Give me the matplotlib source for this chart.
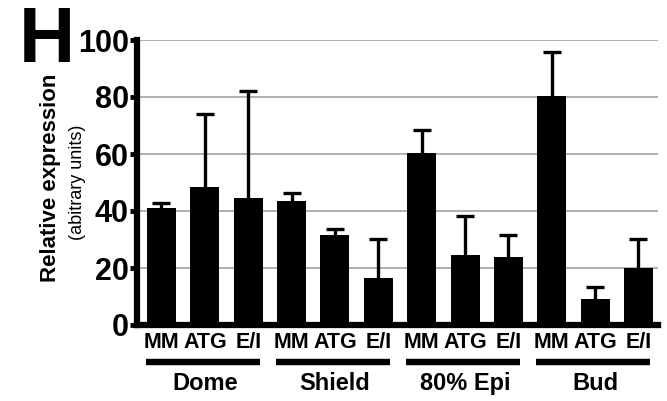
import numpy as np
import matplotlib
matplotlib.use("Agg")
import matplotlib.pyplot as plt
import matplotlib.transforms as mtransforms

plt.rcParams['font.family'] = ['Liberation Sans', 'DejaVu Sans']
plt.rcParams['font.weight'] = 'bold'

stages = ['Dome', 'Shield', '80% Epi', 'Bud']
conditions = ['MM', 'ATG', 'E/I']

# mean expression per stage, in MM / ATG / E/I order
dome = [41.0, 48.3, 44.4]
shield = [43.5, 31.6, 16.6]
epi80 = [60.4, 24.6, 24.0]
bud = [80.2, 9.0, 20.1]

# upper error (SD)
dome_err = [1.9, 25.7, 37.8]
shield_err = [2.7, 2.0, 13.6]
epi80_err = [8.0, 13.8, 7.6]
bud_err = [15.5, 4.4, 10.1]

yticks = [0, 20, 40, 60, 80, 100]

means = np.array(dome + shield + epi80 + bud)
errs = np.array(dome_err + shield_err + epi80_err + bud_err)
x = np.arange(len(means))
bar_w = 0.67

fig = plt.figure(figsize=(6.67, 4.01), dpi=100)
ax = fig.add_axes([137 / 667, 1 - 325 / 401, (658 - 137) / 667, 285 / 401])

ax.bar(x, means, width=bar_w, color='black', zorder=3)
eb = ax.errorbar(x, means, yerr=[np.zeros_like(errs), errs], fmt='none',
                 ecolor='black', elinewidth=2.4, capsize=6.5, capthick=2.4,
                 zorder=2)
# keep only the upper caps
for cl in eb[1]:
    if np.allclose(cl.get_ydata(), means):
        cl.set_visible(False)

ax.set_xlim(-0.565, len(means) - 1 + 0.45)
ax.set_ylim(0, 100)
ax.set_yticks(yticks)
ax.yaxis.grid(True, color='#9a9a9a', linewidth=1.1, zorder=0)
ax.set_axisbelow(True)

for side in ['top', 'right']:
    ax.spines[side].set_visible(False)
for side in ['left', 'bottom']:
    ax.spines[side].set_linewidth(4.5)
    ax.spines[side].set_zorder(4)

ax.tick_params(axis='y', direction='out', length=5, width=3.5, pad=1,
               labelsize=22)
ax.set_xticks(x)
ax.set_xticklabels(conditions * len(stages))
ax.tick_params(axis='x', length=0, pad=5, labelsize=15.5)

# stage brackets and names under the condition labels
trans = mtransforms.blended_transform_factory(ax.transData, ax.transAxes)
for i, name in enumerate(stages):
    lo = 3 * i - bar_w / 2 - 0.02
    hi = 3 * i + 2 + bar_w / 2 - 0.07
    ax.plot([lo, hi], [-0.13, -0.13], color='black', linewidth=4.6,
            solid_capstyle='butt', transform=trans, clip_on=False)
    ax.text(3 * i + 1, -0.204, name, transform=trans, ha='center',
            va='center', fontsize=17)

fig.text(51 / 667, 1 - 178 / 401, 'Relative expression', rotation=90,
         ha='center', va='center', fontsize=16)
fig.text(78 / 667, 1 - 182 / 401, '(abitrary units)', rotation=90,
         ha='center', va='center', fontsize=13, fontweight='normal')
fig.text(19 / 667, 1 - 62 / 401, 'H', ha='left', va='baseline',
         fontsize=56)

fig.savefig('out.png', dpi=100)
